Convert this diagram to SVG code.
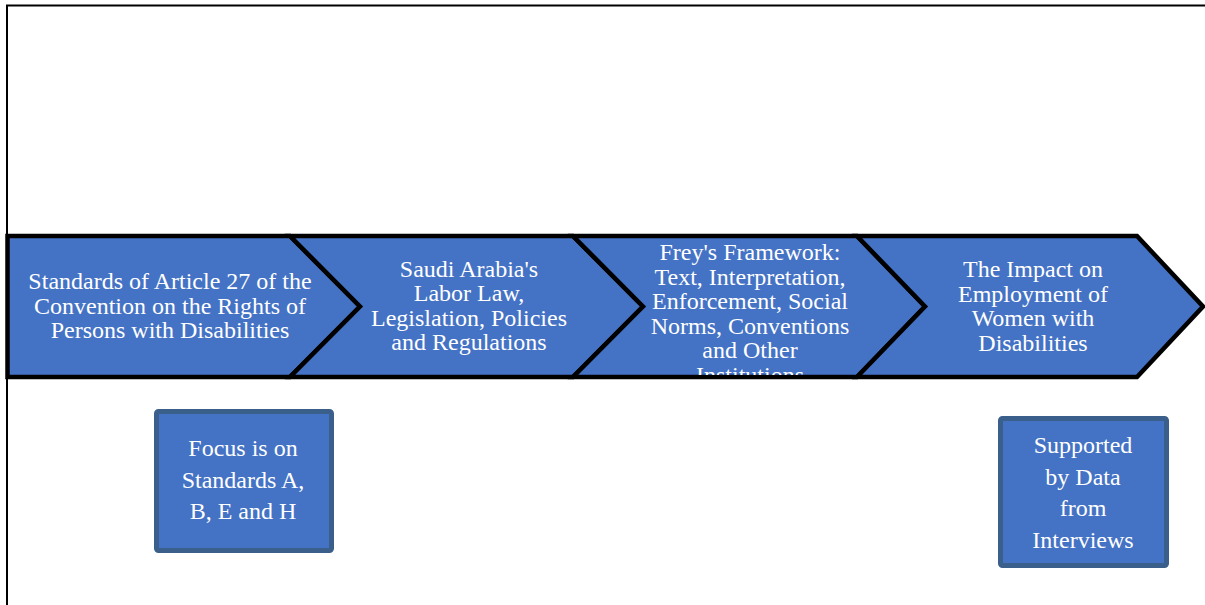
<svg xmlns="http://www.w3.org/2000/svg" width="1205" height="605" viewBox="0 0 1205 605">
  <style>
    .chev { fill: #4472C4; stroke: #000; stroke-width: 4.5; stroke-linejoin: miter; }
    .box { fill: #4472C4; stroke: #3A5F8B; stroke-width: 5; }
    .lbl { font-family: "Liberation Serif", "Times New Roman", serif; font-size: 24px; fill: #fff; text-anchor: middle; }
  </style>
  <defs>
    <clipPath id="clip3">
      <path d="M573,238 L857,238 L925,306.5 L857,375 L573,375 L641,306.5 Z"/>
    </clipPath>
  </defs>
  <rect x="0" y="0" width="1205" height="605" fill="#fff"/>

  <!-- page frame -->
  <g id="frame" fill="none" stroke="#000" stroke-width="2">
    <path d="M7,605 L7,5.5 L1205,5.5"/>
  </g>

  <g id="connectors"></g>

  <g id="step1">
    <path class="chev" d="M7.5,236 L290,236 L360,306.5 L290,377 L7.5,377 Z"/>
    <text class="lbl" x="170" y="289">Standards of Article 27 of the</text>
    <text class="lbl" x="170" y="313.5">Convention on the Rights of</text>
    <text class="lbl" x="170" y="338">Persons with Disabilities</text>
  </g>

  <g id="step2">
    <path class="chev" d="M290,236 L573,236 L643,306.5 L573,377 L290,377 L360,306.5 Z"/>
    <text class="lbl" x="469" y="276.5">Saudi Arabia's</text>
    <text class="lbl" x="469" y="301">Labor Law,</text>
    <text class="lbl" x="469" y="325.5">Legislation, Policies</text>
    <text class="lbl" x="469" y="350">and Regulations</text>
  </g>

  <g id="step3">
    <path class="chev" d="M573,236 L857,236 L925,306.5 L857,377 L573,377 L643,306.5 Z"/>
    <g clip-path="url(#clip3)">
      <text class="lbl" x="750" y="260">Frey's Framework:</text>
      <text class="lbl" x="750" y="284.5">Text, Interpretation,</text>
      <text class="lbl" x="750" y="309">Enforcement, Social</text>
      <text class="lbl" x="750" y="333.5">Norms, Conventions</text>
      <text class="lbl" x="750" y="358">and Other</text>
      <text class="lbl" x="750" y="382.5">Institutions</text>
    </g>
  </g>

  <g id="step4">
    <path class="chev" d="M857,236 L1137,236 L1203,306.5 L1137,377 L857,377 L925,306.5 Z"/>
    <text class="lbl" x="1033" y="277">The Impact on</text>
    <text class="lbl" x="1033" y="301.5">Employment of</text>
    <text class="lbl" x="1033" y="326">Women with</text>
    <text class="lbl" x="1033" y="350.5">Disabilities</text>
  </g>

  <g id="note-focus">
    <rect class="box" x="156.5" y="411.5" width="175" height="139" rx="2"/>
    <text class="lbl" x="243" y="456">Focus is on</text>
    <text class="lbl" x="243" y="487.5">Standards A,</text>
    <text class="lbl" x="243" y="519">B, E and H</text>
  </g>

  <g id="note-data">
    <rect class="box" x="1000.5" y="418.5" width="166" height="147" rx="2"/>
    <text class="lbl" x="1083" y="453">Supported</text>
    <text class="lbl" x="1083" y="484.5">by Data</text>
    <text class="lbl" x="1083" y="516">from</text>
    <text class="lbl" x="1083" y="547.5">Interviews</text>
  </g>
</svg>
